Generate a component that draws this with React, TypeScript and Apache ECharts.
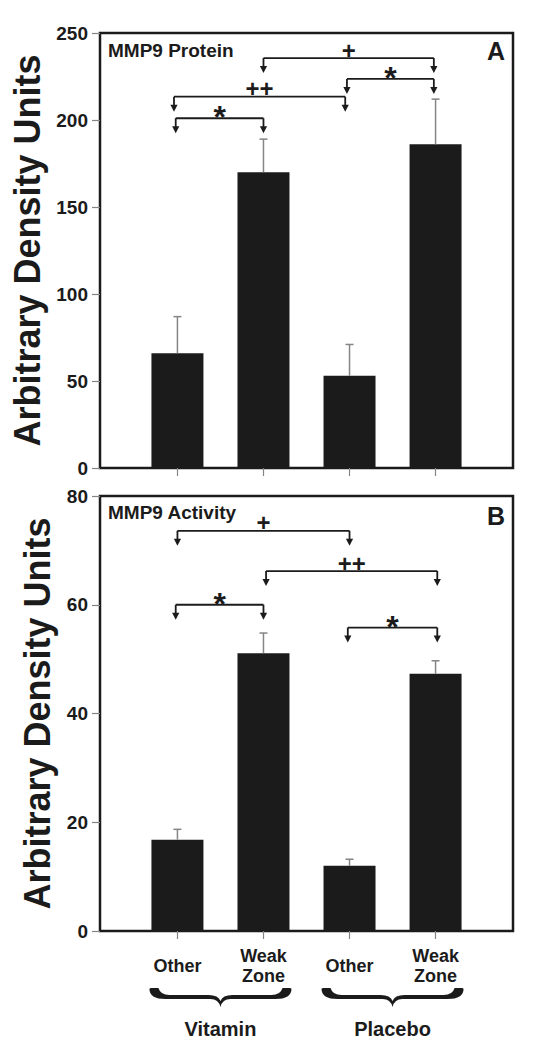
import React, { useEffect, useRef } from "react";
import * as echarts from "echarts";

// ---------- data ----------
const categories = ["Other", "Weak\nZone", "Other", "Weak\nZone"];
const barPositions = [1, 2, 3, 4];

const proteinMean = [66, 170, 53, 186];
const proteinErr = [21, 19, 18, 26];
const activityMean = [16.8, 51.1, 12, 47.3];
const activityErr = [1.9, 3.7, 1.2, 2.4];

const proteinTicks = [0, 50, 100, 150, 200, 250];
const activityTicks = [0, 20, 40, 60, 80];

const bracketFromA = [0.98, 0.96, 2.97, 2.0];
const bracketToA = [2.0, 2.95, 3.98, 3.98];
const bracketLevelA = [201, 213.4, 223.6, 235.6];
const bracketMarkA = ["*", "++", "*", "+"];

const bracketFromB = [1.0, 2.03, 0.98, 2.98];
const bracketToB = [3.0, 4.02, 2.0, 4.02];
const bracketLevelB = [73.6, 66.2, 60.0, 55.8];
const bracketMarkB = ["+", "++", "*", "*"];

const groupNames = ["Vitamin", "Placebo"];
const groupFrom = [1, 3];
const groupTo = [2, 4];

const panelTitles = ["MMP9 Protein", "MMP9 Activity"];
const panelLetters = ["A", "B"];
const yTitle = "Arbitrary Density Units";

// ---------- styles ----------
const INK = "#1b1b1b";
const GREY = "#858585";
const FONT = '"Liberation Sans", Arial, Helvetica, sans-serif';

function bracketRenderer(marks: string[]) {
  return (params: any, api: any) => {
    const p1 = api.coord([api.value(0), api.value(2)]);
    const p2 = api.coord([api.value(1), api.value(2)]);
    const y = p1[1];
    const mark = marks[params.dataIndex];
    const children: any[] = [
      { type: "line", shape: { x1: p1[0], y1: y, x2: p2[0], y2: y }, style: { stroke: INK, lineWidth: 1.8 } },
    ];
    for (const x of [p1[0], p2[0]]) {
      children.push({ type: "line", shape: { x1: x, y1: y, x2: x, y2: y + 9 }, style: { stroke: INK, lineWidth: 1.8 } });
      children.push({
        type: "polygon",
        shape: { points: [[x - 3.6, y + 8], [x + 3.6, y + 8], [x, y + 15]] },
        style: { fill: INK },
      });
    }
    const star = mark === "*";
    children.push({
      type: "text",
      x: (p1[0] + p2[0]) / 2,
      y: star ? y - 1 : y - 8,
      style: {
        text: mark,
        fontSize: star ? 32 : 24,
        fontWeight: "bold",
        fontFamily: FONT,
        fill: INK,
        align: "center",
        verticalAlign: "middle",
      },
    });
    return { type: "group", children };
  };
}

function errorRenderer(params: any, api: any) {
  const x = api.value(0);
  const m = api.value(1);
  const e = api.value(2);
  const pb = api.coord([x, m]);
  const pt = api.coord([x, m + e]);
  return {
    type: "group",
    children: [
      { type: "line", shape: { x1: pb[0], y1: pb[1], x2: pt[0], y2: pt[1] }, style: { stroke: GREY, lineWidth: 1.5 } },
      { type: "line", shape: { x1: pt[0] - 4, y1: pt[1], x2: pt[0] + 4, y2: pt[1] }, style: { stroke: GREY, lineWidth: 1.5 } },
    ],
  };
}

function braceRenderer(params: any, api: any) {
  const a = api.coord([api.value(0), 0]);
  const b = api.coord([api.value(1), 0]);
  const x0 = a[0] - 28;
  const x1 = b[0] + 28;
  const y0 = a[1] + 57;
  const W = x1 - x0;
  const c = W / 2;
  const P = (x: number, y: number) => `${(x0 + x).toFixed(2)} ${(y0 + y).toFixed(2)}`;
  const d = [
    `M ${P(0, 1)}`,
    `Q ${P(0, 0)} ${P(2, 0)}`,
    `L ${P(9, 0)}`,
    `Q ${P(11, 7)} ${P(20, 7)}`,
    `L ${P(c - 12, 7)}`,
    `Q ${P(c - 2, 7)} ${P(c, 13)}`,
    `Q ${P(c + 2, 7)} ${P(c + 12, 7)}`,
    `L ${P(W - 20, 7)}`,
    `Q ${P(W - 11, 7)} ${P(W - 9, 0)}`,
    `L ${P(W - 2, 0)}`,
    `Q ${P(W, 0)} ${P(W, 1)}`,
    `Q ${P(W, 11)} ${P(W - 16, 11)}`,
    `L ${P(c + 10, 11)}`,
    `Q ${P(c + 2, 11)} ${P(c, 19)}`,
    `Q ${P(c - 2, 11)} ${P(c - 10, 11)}`,
    `L ${P(16, 11)}`,
    `Q ${P(0, 11)} ${P(0, 1)}`,
    "Z",
  ].join(" ");
  return {
    type: "group",
    children: [
      { type: "path", shape: { pathData: d }, style: { fill: INK } },
      {
        type: "text",
        x: x0 + c,
        y: y0 + 41,
        style: {
          text: groupNames[params.dataIndex],
          fontSize: 20,
          fontWeight: "bold",
          fontFamily: FONT,
          fill: INK,
          align: "center",
          verticalAlign: "middle",
        },
      },
    ],
  };
}

export default function App() {
  const ref = useRef<HTMLDivElement>(null);

  useEffect(() => {
    document.body.style.margin = "0";
    const chart = echarts.init(ref.current!, null, { renderer: "svg" });

    const grids = [
      { left: 100, right: 36, top: 33, height: 435 },
      { left: 100, right: 36, top: 496, height: 435 },
    ].map((g) => ({ ...g, show: true, borderColor: INK, borderWidth: 2.5, backgroundColor: "transparent" }));

    const labelFmt = (v: number) => {
      const i = barPositions.indexOf(v);
      return i >= 0 ? categories[i] : "";
    };

    const xAxes = [0, 1].map((i) => ({
      type: "value",
      gridIndex: i,
      min: 0.1,
      max: 4.9,
      axisLine: { show: false },
      splitLine: { show: false },
      axisTick: { show: true, customValues: barPositions, length: 8, lineStyle: { color: GREY, width: 1.2 } },
      axisLabel: {
        show: i === 1,
        customValues: barPositions,
        formatter: labelFmt,
        fontSize: 18,
        fontWeight: "bold",
        fontFamily: FONT,
        color: INK,
        lineHeight: 20,
        margin: 35,
        verticalAlign: "middle",
      },
    }));

    const ticksets = [proteinTicks, activityTicks];
    const yAxes = [0, 1].map((i) => {
      const t = ticksets[i];
      return {
        type: "value",
        gridIndex: i,
        min: t[0],
        max: t[t.length - 1],
        interval: t[1] - t[0],
        axisLine: { show: false },
        splitLine: { show: false },
        axisTick: { show: true, length: 8, lineStyle: { color: GREY, width: 1.2 } },
        axisLabel: { fontSize: 19, fontWeight: "bold", fontFamily: FONT, color: INK, margin: 12 },
        name: yTitle,
        nameLocation: "middle",
        nameRotate: 90,
        nameGap: 45,
        nameTextStyle: { fontSize: 36, fontWeight: "bold", fontFamily: FONT, color: INK },
      };
    });

    const means = [proteinMean, activityMean];
    const errs = [proteinErr, activityErr];
    const brFrom = [bracketFromA, bracketFromB];
    const brTo = [bracketToA, bracketToB];
    const brLvl = [bracketLevelA, bracketLevelB];
    const brMark = [bracketMarkA, bracketMarkB];

    const series: any[] = [];
    [0, 1].forEach((i) => {
      series.push({
        type: "bar",
        xAxisIndex: i,
        yAxisIndex: i,
        barWidth: 52,
        itemStyle: { color: INK },
        data: barPositions.map((x, k) => [x, means[i][k]]),
        silent: true,
        z: 2,
      });
      series.push({
        type: "custom",
        xAxisIndex: i,
        yAxisIndex: i,
        renderItem: errorRenderer,
        data: barPositions.map((x, k) => [x, means[i][k], errs[i][k]]),
        silent: true,
        z: 3,
      });
      series.push({
        type: "custom",
        xAxisIndex: i,
        yAxisIndex: i,
        renderItem: bracketRenderer(brMark[i]),
        data: brFrom[i].map((f, k) => [f, brTo[i][k], brLvl[i][k]]),
        encode: { x: [0, 1], y: 2 },
        silent: true,
        clip: false,
        z: 4,
      });
    });
    series.push({
      type: "custom",
      xAxisIndex: 1,
      yAxisIndex: 1,
      renderItem: braceRenderer,
      data: groupFrom.map((f, k) => [f, groupTo[k]]),
      encode: { x: [0, 1] },
      silent: true,
      clip: false,
      z: 4,
    });

    const titleTops = [41, 503];
    const letterTops = [38, 503];
    const graphic: any[] = [];
    [0, 1].forEach((i) => {
      graphic.push({
        type: "text",
        left: 108,
        top: titleTops[i],
        style: { text: panelTitles[i], fontSize: 19, fontWeight: "bold", fontFamily: FONT, fill: INK },
      });
      graphic.push({
        type: "text",
        right: 44,
        top: letterTops[i],
        style: { text: panelLetters[i], fontSize: 25, fontWeight: "bold", fontFamily: FONT, fill: INK },
      });
    });

    chart.setOption({
      animation: false,
      backgroundColor: "#ffffff",
      grid: grids,
      xAxis: xAxes,
      yAxis: yAxes,
      series,
      graphic,
    });

    return () => chart.dispose();
  }, []);

  return <div ref={ref} style={{ width: 549, height: 1050 }} />;
}
